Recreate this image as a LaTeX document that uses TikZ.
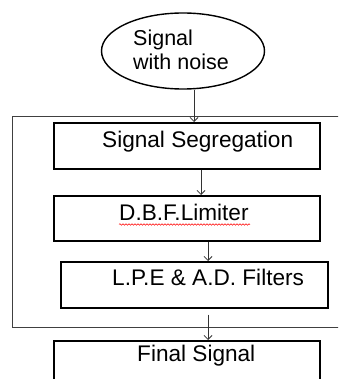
\documentclass[tikz,border=0pt]{standalone}
\usepackage{fontspec}
\setmainfont{Liberation Sans}
\usetikzlibrary{arrows.meta,decorations.pathmorphing,shapes.geometric}
\begin{document}
\begin{tikzpicture}[x=1pt,y=-1pt,
  box/.style={draw=black,line width=1.6pt,rectangle,inner sep=0pt,anchor=north west},
  lbl/.style={anchor=base west,inner sep=0pt,font=\fontsize{22.6}{26}\selectfont},
  elbl/.style={anchor=base west,inner sep=0pt,font=\fontsize{21.5}{25}\selectfont},
  arr/.style={draw=black!80,line width=0.8pt,-{Straight Barb[length=4pt,width=8pt]}}]
\useasboundingbox (0,0) rectangle (338,379);
\clip (0,0) rectangle (338,379);
\fill[white] (0,0) rectangle (338,379);
% outer frame
\node[draw=black!75,line width=1pt,rectangle,inner sep=0pt,anchor=north west,
      minimum width=340pt,minimum height=211pt] (outer) at (12,116) {};
% start ellipse
\node[draw=black,line width=1.4pt,ellipse,inner sep=0pt,
      minimum width=163pt,minimum height=76pt] (e) at (183,51) {};
\node[elbl] (t0a) at (133,46) {Signal};
\node[elbl] (t0b) at (133,70) {with noise};
% boxes
\node[box,minimum width=266pt,minimum height=46pt] (seg) at (53,122) {};
\node[lbl] (t1) at (102,148) {Signal Segregation};
\node[box,minimum width=266pt,minimum height=45pt] (dbf) at (53,195) {};
\node[lbl] (t2) at (119,220) {D.B.F.Limiter};
\draw[red,line width=0.5pt,decorate,decoration={snake,amplitude=0.8pt,segment length=3pt}]
  (119,224.5) -- (250,224.5);
\node[box,minimum width=267pt,minimum height=46pt] (lpe) at (60,261) {};
\node[lbl] (t3) at (112,285) {L.P.E \& A.D. Filters};
\node[box,minimum width=266pt,minimum height=60pt] (fin) at (53,340) {};
\node[lbl] (t4) at (137,361) {Final Signal};
% connectors
\coordinate (c1) at (194,0);
\coordinate (c2) at (201,0);
\coordinate (c3) at (208,0);
\draw[arr] (e.south -| c1) -- (seg.north -| c1);
\draw[arr] (seg.south -| c2) -- (dbf.north -| c2);
\draw[arr] (dbf.south -| c3) -- (lpe.north -| c3);
\draw[arr,shorten <=6pt] (lpe.south -| c3) -- (fin.north -| c3);
\end{tikzpicture}
\end{document}
